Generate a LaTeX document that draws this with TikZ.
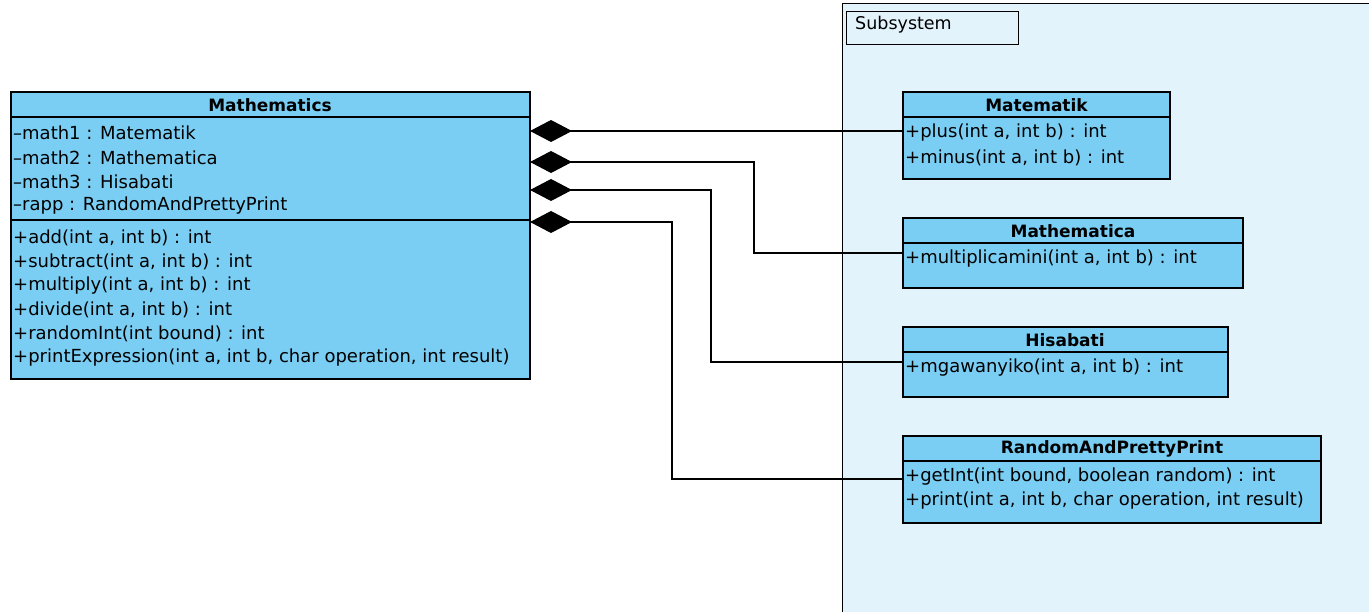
\documentclass[tikz,border=0pt]{standalone}
\usepackage{fontspec}
\setmainfont{DejaVu Sans}
\usetikzlibrary{arrows.meta}
\definecolor{classfill}{RGB}{122,206,244}
\definecolor{subfill}{RGB}{227,243,251}
\begin{document}
\begin{tikzpicture}[x=1pt,y=-1pt,
  classbox/.style={draw=black, line width=1.3pt, fill=classfill, inner sep=0pt,
    outer sep=0pt, anchor=north west, rectangle},
  classtitle/.style={font=\bfseries\fontsize{17}{20}\selectfont, inner sep=0pt},
  member/.style={font=\fontsize{18}{21}\selectfont, anchor=west, inner sep=0pt, yshift=-1.5pt},
  divider/.style={line width=1.3pt},
  link/.style={line width=1.4pt, {Diamond[length=42pt,width=22pt]}-}
]
\useasboundingbox (0,0) rectangle (1369,612);
\clip (0,0) rectangle (1369,612);
\fill[white] (0,0) rectangle (1369,612);

% subsystem frame and its label
\node[draw=black, line width=1.2pt, fill=subfill, anchor=north west, inner sep=0pt,
  minimum width=560pt, minimum height=640pt] (subsystem) at (842,3) {};
\node[draw=black, line width=1.2pt, anchor=north west, inner sep=0pt,
  minimum width=172pt, minimum height=33pt] (sublabel) at (846,11) {};
\node[member, font=\fontsize{17.5}{20}\selectfont, yshift=-1.5pt] (sublabeltext) at (855,22) {Subsystem};

% class boxes
\node[classbox, minimum width=519pt, minimum height=287pt] (mathbox) at (11,92) {};
\node[classbox, minimum width=267pt, minimum height=87pt] (matematik) at (903,92) {};
\node[classbox, minimum width=340pt, minimum height=70pt] (mathematica) at (903,218) {};
\node[classbox, minimum width=325pt, minimum height=70pt] (hisabati) at (903,327) {};
\node[classbox, minimum width=418pt, minimum height=87pt] (rapp) at (903,436) {};

% composition connectors
\draw[link] (mathbox.east |- 0,131) -- (matematik.west |- 0,131);
\draw[link] (mathbox.east |- 0,162) -- (754,162) -- (754,253) -- (mathematica.west |- 0,253);
\draw[link] (mathbox.east |- 0,190) -- (711,190) -- (711,362) -- (hisabati.west |- 0,362);
\draw[link] (mathbox.east |- 0,222) -- (672,222) -- (672,479) -- (rapp.west |- 0,479);

% Mathematics
\node[classtitle] (mathtitle) at (270,105) {Mathematics};
\draw[divider] (mathbox.west |- 0,117) -- (mathbox.east |- 0,117);
\draw[divider] (mathbox.west |- 0,220) -- (mathbox.east |- 0,220);
\node[member] (ma1) at (13,131) {–math1 : Matematik};
\node[member] (ma2) at (13,156) {–math2 : Mathematica};
\node[member] (ma3) at (13,180) {–math3 : Hisabati};
\node[member] (ma4) at (13,204) {–rapp : RandomAndPrettyPrint};
\node[member] (mo1) at (13,236) {+add(int a, int b) : int};
\node[member] (mo2) at (13,260) {+subtract(int a, int b) : int};
\node[member] (mo3) at (13,284) {+multiply(int a, int b) : int};
\node[member] (mo4) at (13,308) {+divide(int a, int b) : int};
\node[member] (mo5) at (13,332) {+randomInt(int bound) : int};
\node[member] (mo6) at (13,356) {+printExpression(int a, int b, char operation, int result)};

% Matematik
\node[classtitle] (mktitle) at (1036.5,105) {Matematik};
\draw[divider] (matematik.west |- 0,117) -- (matematik.east |- 0,117);
\node[member] (mk1) at (905,131) {+plus(int a, int b) : int};
\node[member] (mk2) at (905,156) {+minus(int a, int b) : int};

% Mathematica
\node[classtitle] (mctitle) at (1073,231) {Mathematica};
\draw[divider] (mathematica.west |- 0,243) -- (mathematica.east |- 0,243);
\node[member] (mc1) at (905,257) {+multiplicamini(int a, int b) : int};

% Hisabati
\node[classtitle] (hstitle) at (1065,340) {Hisabati};
\draw[divider] (hisabati.west |- 0,352) -- (hisabati.east |- 0,352);
\node[member] (hs1) at (905,366) {+mgawanyiko(int a, int b) : int};

% RandomAndPrettyPrint
\node[classtitle] (rptitle) at (1112,449) {RandomAndPrettyPrint};
\draw[divider] (rapp.west |- 0,461) -- (rapp.east |- 0,461);
\node[member] (rp1) at (905,475) {+getInt(int bound, boolean random) : int};
\node[member] (rp2) at (905,499) {+print(int a, int b, char operation, int result)};
\end{tikzpicture}
\end{document}
